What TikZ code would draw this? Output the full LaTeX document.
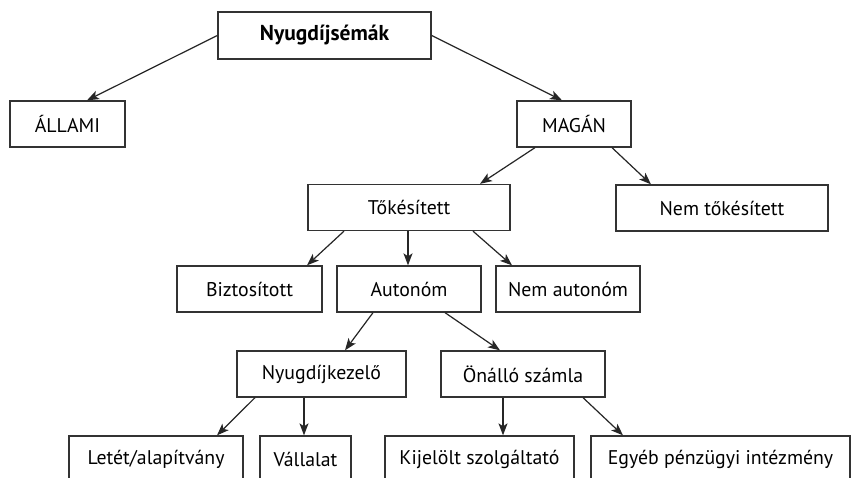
\documentclass[tikz,border=0pt]{standalone}
\usepackage{fontspec}
\setmainfont{PT Sans}
\usetikzlibrary{arrows.meta}
\begin{document}
\begin{tikzpicture}[x=1pt,y=-1pt,
  box/.style={draw=black!80,line width=1.3pt,rectangle,inner sep=0pt,
    minimum height=46pt,font=\fontsize{19.8}{22}\selectfont,text=black},
  link/.style={draw=black!85,line width=1.2pt,
    -{Stealth[length=12pt,width=9pt,inset=3pt]}}]
\clip (0,0) rectangle (851,478);
\fill[white] (0,0) rectangle (851,478);
% boxes
\node[box,minimum width=213pt,minimum height=47pt,font=\fontsize{21.5}{24}\selectfont\bfseries] (root) at (324.5,35.5) {Nyugdíjsémák};
\node[box,minimum width=115pt] (allami) at (67.5,124) {ÁLLAMI};
\node[box,minimum width=114pt] (magan) at (574,124) {MAGÁN};
\node[box,minimum width=202pt] (tok) at (409,207.5) {Tőkésített};
\node[box,minimum width=212pt] (nemtok) at (722,208) {Nem tőkésített};
\node[box,minimum width=145pt] (bizt) at (249.5,289) {Biztosított};
\node[box,minimum width=144pt] (auto) at (409,289) {Autonóm};
\node[box,minimum width=144pt] (nemauto) at (568,289) {Nem autonóm};
\node[box,minimum width=169pt] (nyk) at (321.5,374) {Nyugdíjkezelő};
\node[box,minimum width=164pt] (onallo) at (523,374) {Önálló számla};
\node[box,minimum width=174pt] (letet) at (156,459) {Letét/alapítvány};
\node[box,minimum width=91pt] (vall) at (305.5,459) {Vállalat};
\node[box,minimum width=189pt] (kij) at (479.5,459) {Kijelölt szolgáltató};
\node[box,minimum width=259pt] (egyeb) at (720.5,459) {Egyéb pénzügyi intézmény};
% connectors
\draw[link] (root.west) -- ([xshift=19.5pt]allami.north);
\draw[link] (root.east) -- ([xshift=-12pt]magan.north);
\draw[link] ([xshift=-39pt]magan.south) -- ([xshift=71pt]tok.north);
\draw[link] ([xshift=38pt]magan.south) -- ([xshift=-71pt]nemtok.north);
\draw[link] ([xshift=-65pt]tok.south) -- ([xshift=57.5pt]bizt.north);
\draw[link] ([xshift=-1pt]tok.south) -- ([xshift=-1pt]auto.north);
\draw[link] ([xshift=64pt]tok.south) -- ([xshift=-56pt]nemauto.north);
\draw[link] ([xshift=-36pt]auto.south) -- ([xshift=23.5pt]nyk.north);
\draw[link] ([xshift=36pt]auto.south) -- ([xshift=-23pt]onallo.north);
\draw[link] ([xshift=-66.5pt]nyk.south) -- ([xshift=61pt]letet.north);
\draw[link] ([xshift=-17.5pt]nyk.south) -- ([xshift=-1.5pt]vall.north);
\draw[link] ([xshift=-20pt]onallo.south) -- ([xshift=23.5pt]kij.north);
\draw[link] ([xshift=60pt]onallo.south) -- ([xshift=-97.5pt]egyeb.north);
\end{tikzpicture}
\end{document}
